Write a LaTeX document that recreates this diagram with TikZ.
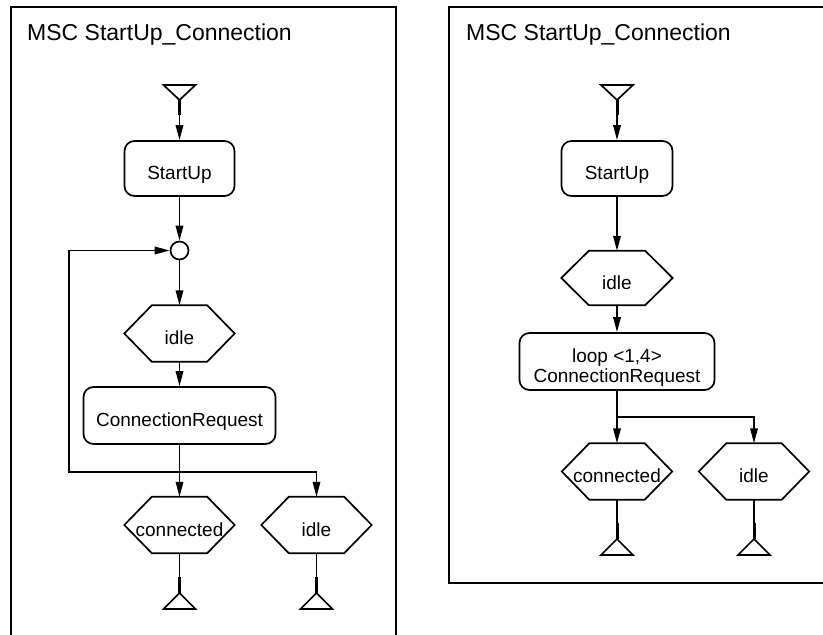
\documentclass[tikz,border=0pt]{standalone}
\usepackage{fontspec}
\setmainfont{Liberation Sans}
\usetikzlibrary{arrows.meta}

\tikzset{
  line/.style={line width=1.7pt},
  arr/.style={line, -{Triangle[length=15pt,width=7.5pt]}},
  stem/.style={line width=3pt},
  lbl/.style={font=\fontsize{19}{20}\selectfont, text height=24pt, text depth=2pt, inner sep=0pt},
  refbox/.style={lbl, draw, line, rounded corners=10pt, minimum height=56pt},
  hexbase/.style={lbl, minimum width=110pt, minimum height=56pt},
  title/.style={font=\fontsize{23}{26}\selectfont, anchor=base west, inner sep=0pt},
  frame/.style={line},
}

% hexagonal condition symbol around a named node
\newcommand{\hexcond}[3]{%
  \node[hexbase] (#1) at (#2) {#3};
  \draw[line, line join=miter] (#1.west) -- ([xshift=27.5pt]#1.north west) -- ([xshift=-27.5pt]#1.north east)
    -- (#1.east) -- ([xshift=-27.5pt]#1.south east) -- ([xshift=27.5pt]#1.south west) -- cycle;
}
% start symbol: inverted triangle above the named point
\newcommand{\startsym}[2]{%
  \coordinate (#1) at (#2);
  \draw[line, line join=miter] (#1) -- ++(-16,-15) -- ++(32,0) -- cycle;
  \draw[stem] (#1) -- ++(0,15);
}
% stop symbol: triangle below the named point
\newcommand{\stopsym}[2]{%
  \coordinate (#1) at (#2);
  \draw[line, line join=miter] (#1) -- ++(-16,16) -- ++(32,0) -- cycle;
  \draw[stem] (#1) -- ++(0,-16);
}

\begin{document}
\begin{tikzpicture}[x=1pt, y=-1pt]
\clip (0,0) rectangle (823,635);
\fill[white] (0,0) rectangle (823,635);

% ---------- left HMSC ----------
\draw[frame] (11,7) rectangle (396,660);
\node[title] (ltitle) at (27,40) {MSC StartUp\_Connection};

\startsym{ls}{179.5,100}
\node[refbox, minimum width=110pt, minimum height=55pt] (lsu) at (179.5,168.5) {StartUp};
\node[draw, line, circle, minimum size=18pt, inner sep=0pt] (lc) at (179.5,250.5) {};
\hexcond{lidle}{179.5,333.5}{idle}
\node[refbox, minimum width=192pt, minimum height=57pt] (lcr) at (179.5,415.5) {ConnectionRequest};
\hexcond{lconn}{179.5,525}{connected}
\hexcond{lidle2}{316.5,525}{idle}
\stopsym{le1}{179.5,593}
\stopsym{le2}{316.5,593}
\coordinate (lj) at (179.5,472);

\draw[arr] (ls) -- (lsu);
\draw[arr] (lsu) -- (lc);
\draw[arr] (lc) -- (lidle);
\draw[arr] (lidle) -- (lcr);
\draw[arr] (lcr) -- (lconn);
\draw[arr] (lj) -| (lidle2);
\draw[arr] (lj) -- ++(-110.5,0) |- (lc);
\draw[line] (lconn) -- (le1);
\draw[line] (lidle2) -- (le2);

% ---------- right HMSC ----------
\draw[frame] (449,7) rectangle (860,583);
\node[title] (rtitle) at (466,40) {MSC StartUp\_Connection};

\startsym{rs}{617,100}
\node[refbox, minimum width=111pt, minimum height=55pt] (rsu) at (617,168.5) {StartUp};
\node[hexbase, minimum width=111pt, minimum height=54pt] (ridle) at (617,278) {idle};
\draw[line, line join=miter] (ridle.west) -- ([xshift=27.5pt]ridle.north west) -- ([xshift=-27.5pt]ridle.north east)
  -- (ridle.east) -- ([xshift=-27.5pt]ridle.south east) -- ([xshift=27.5pt]ridle.south west) -- cycle;
\node[draw, line, rounded corners=10pt, minimum width=195pt, minimum height=57pt, inner sep=0pt,
      font=\fontsize{19}{20}\selectfont, text height=14pt, text depth=12pt] (rloop) at (617,361.5)
  {\begin{tabular}[t]{@{}c@{}}loop <1,4>\\ConnectionRequest\end{tabular}};
\hexcond{rconn}{617,471.5}{connected}
\hexcond{ridle2}{754,471.5}{idle}
\stopsym{re1}{617,539}
\stopsym{re2}{754,539}
\coordinate (rj) at (617,417);

\draw[arr] (rs) -- (rsu);
\draw[arr] (rsu) -- (ridle);
\draw[arr] (ridle) -- (rloop);
\draw[arr] (rloop) -- (rconn);
\draw[arr] (rj) -| (ridle2);
\draw[line] (rconn) -- (re1);
\draw[line] (ridle2) -- (re2);
\end{tikzpicture}
\end{document}
